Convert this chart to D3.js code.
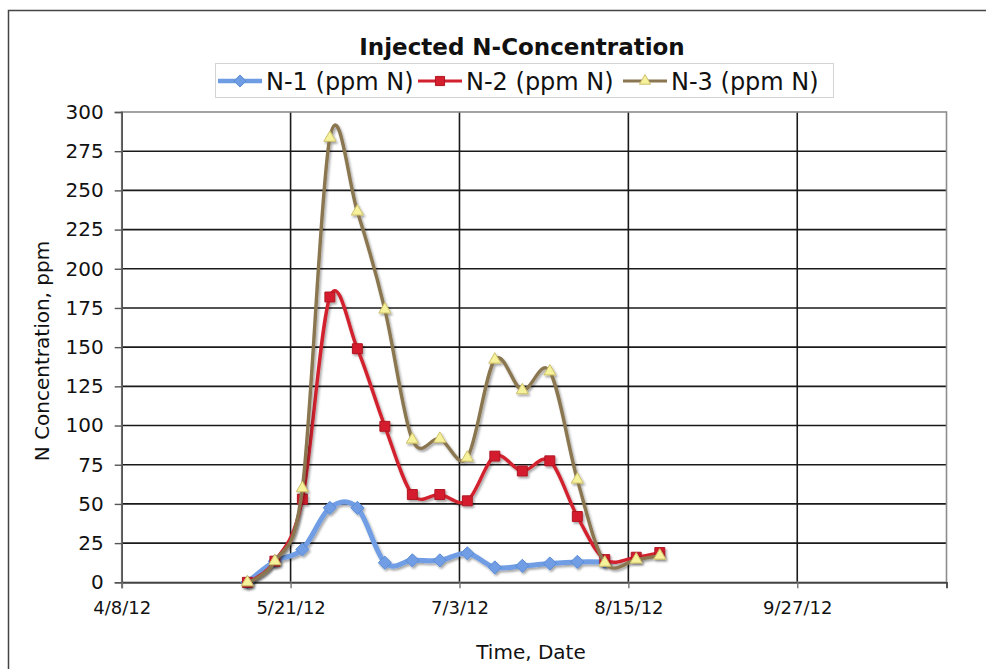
<!DOCTYPE html>
<html>
<head>
<meta charset="utf-8">
<script src="https://cdn.jsdelivr.net/npm/d3@7"></script>
<style>
  body { margin: 0; background: #fff; }
  svg { display: block; font-family: "DejaVu Sans", Verdana, sans-serif; }
</style>
</head>
<body>
<svg id="chart" width="986" height="669"></svg>
<script>
// ── Data ──────────────────────────────────────────────────────────────────────
const sampleDates = ['5/10/12', '5/17/12', '5/24/12', '5/31/12', '6/7/12', '6/14/12', '6/21/12', '6/28/12',
                     '7/5/12', '7/12/12', '7/19/12', '7/26/12', '8/2/12', '8/9/12', '8/17/12', '8/23/12'];
const n1Values = [0, 13.5, 21, 47.5, 47.5, 12.5, 14, 14, 18.5, 9.5, 10.5, 12, 13, 13, null, null];
const n2Values = [0, 13.5, 53, 182, 149, 99.5, 56, 56, 52, 80.5, 71, 77.5, 42, 14.5, 16, 19];
const n3Values = [0, 13.5, 60, 283.5, 236.5, 174, 91, 91.5, 79.5, 142, 122.5, 134.5, 65.5, 12.5, 14.5, 17];
const seriesNames = ['N-1 (ppm N)', 'N-2 (ppm N)', 'N-3 (ppm N)'];
const xTickLabels = ['4/8/12', '5/21/12', '7/3/12', '8/15/12', '9/27/12'];
const xDomainEnd = '11/4/12';
const yTicks = [0, 25, 50, 75, 100, 125, 150, 175, 200, 225, 250, 275, 300];

const parse = d3.timeParse('%m/%d/%y');

// ── Layout ────────────────────────────────────────────────────────────────────
const plot = { left: 121.7, right: 946.5, top: 112, bottom: 582.3 };

const svg = d3.select('#chart');

const x = d3.scaleTime()
	.domain([parse(xTickLabels[0]), parse(xDomainEnd)])
	.range([plot.left, plot.right]);
const y = d3.scaleLinear()
	.domain([0, 300])
	.range([plot.bottom, plot.top]);

const styles = [
	{ color: '#6f9de3', width: 5, marker: 'diamond', fill: '#6f9de3', stroke: '#5b8bd6', size: 110 },
	{ color: '#d2202f', width: 3.4, marker: 'square', fill: '#d41f2e', stroke: '#b01522', size: 125 },
	{ color: '#8a7650', width: 3.4, marker: 'triangle', fill: '#f6f19b', stroke: '#cdbf6a', size: 105 }
];

// drop shadow like the Excel 2008 lines
const defs = svg.append('defs');
const shadow = defs.append('filter').attr('id', 'shadow')
	.attr('x', '-20%').attr('y', '-20%').attr('width', '140%').attr('height', '140%');
shadow.append('feDropShadow')
	.attr('dx', 1.5).attr('dy', 2).attr('stdDeviation', 1)
	.attr('flood-color', '#000').attr('flood-opacity', 0.35);

// ── Chart frame ───────────────────────────────────────────────────────────────
svg.append('rect')
	.attr('x', 8.5).attr('y', 10.5)
	.attr('width', 990).attr('height', 680)
	.attr('fill', '#fff')
	.attr('stroke', '#444').attr('stroke-width', 1.5);

// ── Grid ──────────────────────────────────────────────────────────────────────
const xTicks = xTickLabels.map(parse);

svg.append('g')
	.selectAll('line')
	.data(yTicks.filter(v => v > 0 && v < 300))
	.join('line')
	.attr('x1', plot.left).attr('x2', plot.right)
	.attr('y1', d => y(d)).attr('y2', d => y(d))
	.attr('stroke', '#1a1a1a').attr('stroke-width', 1.6);

svg.append('g')
	.selectAll('line')
	.data(xTicks.slice(1))
	.join('line')
	.attr('x1', d => x(d)).attr('x2', d => x(d))
	.attr('y1', plot.top).attr('y2', plot.bottom)
	.attr('stroke', '#1a1a1a').attr('stroke-width', 1.6);

// plot border
svg.append('rect')
	.attr('x', plot.left).attr('y', plot.top)
	.attr('width', plot.right - plot.left).attr('height', plot.bottom - plot.top)
	.attr('fill', 'none')
	.attr('stroke', '#8c8c8c').attr('stroke-width', 1.6);

// ── Axes ──────────────────────────────────────────────────────────────────────
const yAxis = svg.append('g')
	.attr('transform', `translate(${plot.left},0)`)
	.call(d3.axisLeft(y).tickValues(yTicks).tickSize(7).tickPadding(11));
yAxis.select('.domain').attr('stroke', '#555').attr('stroke-width', 1.6);
yAxis.selectAll('.tick line').attr('stroke', '#555').attr('stroke-width', 1.4);
yAxis.selectAll('.tick text')
	.attr('font-family', '"DejaVu Sans", Verdana, sans-serif')
	.attr('font-size', 20).attr('fill', '#111');

const xAxis = svg.append('g')
	.attr('transform', `translate(0,${plot.bottom})`)
	.call(d3.axisBottom(x).tickValues(xTicks).tickSize(6).tickPadding(13)
		.tickFormat((d, i) => xTickLabels[i]));
xAxis.select('.domain').attr('stroke', '#444').attr('stroke-width', 1.8);
xAxis.selectAll('.tick line').attr('stroke', '#777').attr('stroke-width', 1.4);
xAxis.selectAll('.tick text')
	.attr('font-family', '"DejaVu Sans", Verdana, sans-serif')
	.attr('font-size', 18).attr('fill', '#111');

// ── Series ────────────────────────────────────────────────────────────────────
const dates = sampleDates.map(parse);
const series = [n1Values, n2Values, n3Values].map((vals, i) => ({
	name: seriesNames[i],
	style: styles[i],
	points: vals.map((v, j) => ({ date: dates[j], value: v })).filter(p => p.value !== null)
}));

const line = d3.line()
	.x(d => x(d.date))
	.y(d => y(d.value))
	.curve(d3.curveCardinal.tension(0));

const symbolFor = m => m === 'diamond' ? d3.symbolDiamond2 : m === 'square' ? d3.symbolSquare2 : d3.symbolTriangle2;

series.forEach(s => {
	const g = svg.append('g').attr('filter', 'url(#shadow)');
	g.append('path')
		.datum(s.points)
		.attr('d', line)
		.attr('fill', 'none')
		.attr('stroke', s.style.color)
		.attr('stroke-width', s.style.width)
		.attr('stroke-linejoin', 'round');
	g.selectAll('path.marker')
		.data(s.points)
		.join('path')
		.attr('class', 'marker')
		.attr('transform', d => `translate(${x(d.date)},${y(d.value)})`)
		.attr('d', d3.symbol().type(symbolFor(s.style.marker)).size(s.style.size))
		.attr('fill', s.style.fill)
		.attr('stroke', s.style.stroke)
		.attr('stroke-width', 1);
});

// ── Title & labels ────────────────────────────────────────────────────────────
svg.append('text')
	.attr('x', 522).attr('y', 55)
	.attr('text-anchor', 'middle')
	.attr('font-size', 23).attr('font-weight', 'bold').attr('fill', '#111')
	.text('Injected N-Concentration');

svg.append('text')
	.attr('transform', 'translate(49,351) rotate(-90)')
	.attr('text-anchor', 'middle')
	.attr('font-size', 20).attr('fill', '#111')
	.text('N Concentration, ppm');

svg.append('text')
	.attr('x', 531).attr('y', 659)
	.attr('text-anchor', 'middle')
	.attr('font-size', 20).attr('fill', '#111')
	.text('Time, Date');

// ── Legend ────────────────────────────────────────────────────────────────────
const legend = svg.append('g');
legend.append('rect')
	.attr('x', 215.5).attr('y', 63.5).attr('width', 618).attr('height', 34)
	.attr('fill', '#fff').attr('stroke', '#d4d4d4').attr('stroke-width', 1);

const legendX = [218, 418, 623];
series.forEach((s, i) => {
	const lg = legend.append('g').attr('transform', `translate(${legendX[i]},81)`);
	lg.append('line')
		.attr('x1', 0).attr('x2', 44)
		.attr('stroke', s.style.color).attr('stroke-width', s.style.width - 0.5);
	lg.append('path')
		.attr('transform', 'translate(22,0)')
		.attr('d', d3.symbol().type(symbolFor(s.style.marker)).size(s.style.size * 0.85))
		.attr('fill', s.style.fill).attr('stroke', s.style.stroke).attr('stroke-width', 1);
	lg.append('text')
		.attr('x', 48).attr('y', 8.5)
		.attr('font-size', 24).attr('fill', '#111')
		.text(s.name);
});
</script>
</body>
</html>
